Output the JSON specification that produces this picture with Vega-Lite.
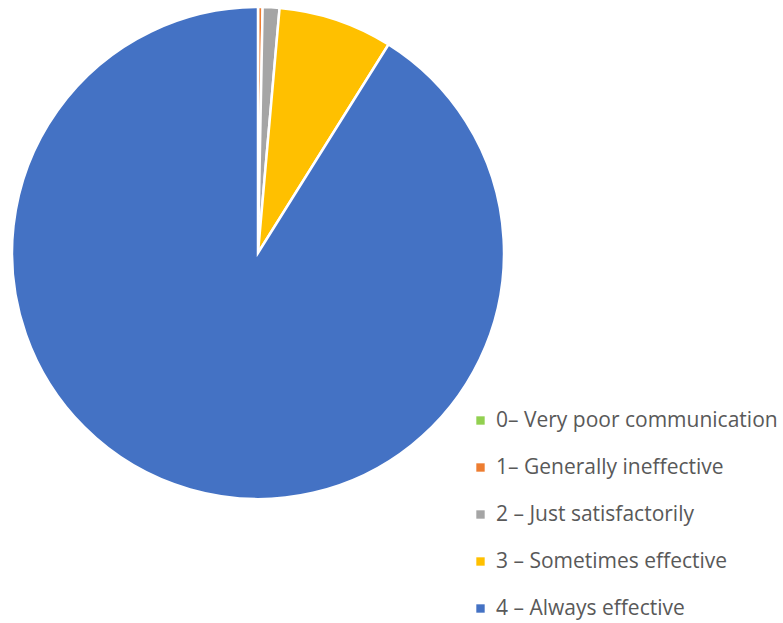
{
  "$schema": "https://vega.github.io/schema/vega-lite/v6.json",
  "autosize": "none",
  "width": 516,
  "height": 506,
  "padding": {"left": 0, "top": 0, "right": 267, "bottom": 117},
  "background": "white",
  "data": {"values": [
    {"k": 0, "label": "0– Very poor communication", "value": 0.0},
    {"k": 1, "label": "1– Generally ineffective", "value": 0.3},
    {"k": 2, "label": "2 – Just satisfactorily", "value": 1.1},
    {"k": 3, "label": "3 – Sometimes effective", "value": 7.5},
    {"k": 4, "label": "4 – Always effective", "value": 91.1}
  ]},
  "mark": {"type": "arc", "outerRadius": 246, "stroke": "white", "strokeWidth": 2.5},
  "encoding": {
    "theta": {"field": "value", "type": "quantitative", "stack": true},
    "order": {"field": "k", "type": "quantitative"},
    "color": {
      "field": "label", "type": "nominal",
      "scale": {
        "domain": ["0– Very poor communication", "1– Generally ineffective", "2 – Just satisfactorily", "3 – Sometimes effective", "4 – Always effective"],
        "range": ["#92D050", "#ED7D31", "#A5A5A5", "#FFC000", "#4472C4"]
      },
      "legend": {
        "title": null,
        "orient": "none",
        "legendX": 470,
        "legendY": 410,
        "symbolType": "square",
        "symbolSize": 70,
        "symbolStrokeWidth": 0,
        "labelFont": "Open Sans",
        "labelFontSize": 21,
        "labelColor": "#595959",
        "labelOffset": 5,
        "rowPadding": 25,
        "labelLimit": 400
      }
    }
  },
  "config": {"view": {"stroke": null}}
}
